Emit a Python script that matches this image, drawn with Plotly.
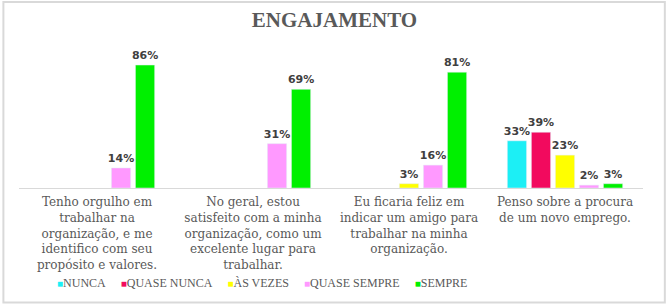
import plotly.graph_objects as go

categories = [
    "Tenho orgulho em<br>trabalhar na<br>organização, e me<br>identifico com seu<br>propósito e valores.",
    "No geral, estou<br>satisfeito com a minha<br>organização, como um<br>excelente lugar para<br>trabalhar.",
    "Eu ficaria feliz em<br>indicar um amigo para<br>trabalhar na minha<br>organização.",
    "Penso sobre a procura<br>de um novo emprego.",
]
series_names = ["NUNCA", "QUASE NUNCA", "ÀS VEZES", "QUASE SEMPRE", "SEMPRE"]
nunca = [None, None, None, 33]
quase_nunca = [None, None, None, 39]
as_vezes = [None, None, 3, 23]
quase_sempre = [14, 31, 16, 2]
sempre = [86, 69, 81, 3]
colors = ["#1CEFF5", "#F20A5E", "#FFFF00", "#FF99FF", "#00F000"]

fig = go.Figure()
for name, vals, col in zip(series_names, [nunca, quase_nunca, as_vezes, quase_sempre, sempre], colors):
    fig.add_trace(go.Bar(
        name=name, x=categories, y=vals, marker_color=col,
        text=[f"{v}%" if v is not None else "" for v in vals],
        textposition="outside", cliponaxis=False, constraintext="none",
        textfont=dict(family="DejaVu Sans", size=11, color="#404040", weight="bold"),
    ))

legend_text = "&nbsp;&nbsp;&nbsp;&nbsp;&nbsp;".join(
    f"<span style='color:{c};font-size:10px'>■</span>{n}" for n, c in zip(series_names, colors)
)

fig.update_layout(
    width=669, height=305,
    paper_bgcolor="white", plot_bgcolor="white",
    margin=dict(l=19, r=26, t=45, b=117, autoexpand=False),
    barmode="group", bargap=0.23, bargroupgap=0.2,
    title=dict(text="<b>ENGAJAMENTO</b>", x=0.5, xanchor="center", y=0.935, yanchor="middle",
               font=dict(family="Liberation Serif", size=21, color="#595959")),
    showlegend=False,
    annotations=[dict(text=legend_text, xref="paper", yref="paper", x=0.389, y=-0.665,
                      xanchor="center", yanchor="middle", showarrow=False,
                      font=dict(family="Liberation Serif", size=12, color="#595959"))],
    xaxis=dict(showline=True, linecolor="#D9D9D9", linewidth=1, ticks="", automargin=False,
               ticklabelstandoff=3,
               tickfont=dict(family="DejaVu Serif", size=12, color="#595959")),
    yaxis=dict(range=[0, 100], visible=False, showgrid=False),
    shapes=[dict(type="rect", xref="paper", yref="paper", x0=-0.025, x1=1.035, y0=-0.8, y1=1.3,
                 line=dict(color="#D9D9D9", width=2))],
)
fig.write_html("out.html", config={"displayModeBar": False},
               post_script="document.body.style.margin='0';")
